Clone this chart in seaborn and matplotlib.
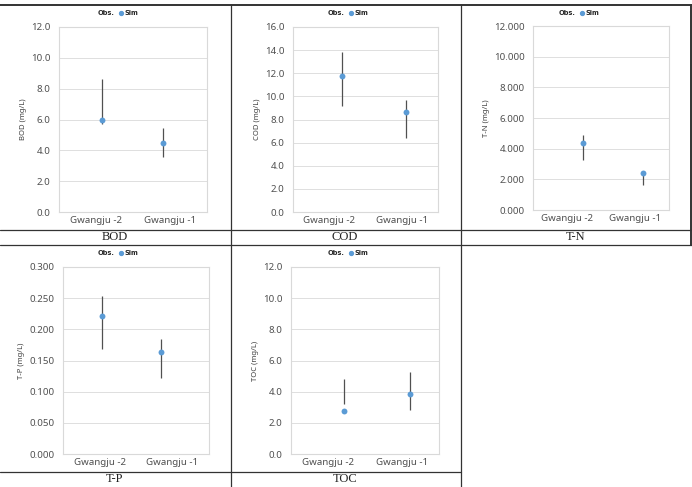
#!/usr/bin/env python
# coding: utf-8
# Observed range vs simulated value at two Gwangju stations, five water quality items

import numpy as np
import pandas as pd
import matplotlib
import matplotlib.pyplot as plt
import seaborn as sns
from matplotlib.lines import Line2D

sns.set_style("white")
matplotlib.rcParams['font.family'] = ["Noto Sans", "DejaVu Sans"]

#%% data

sites = ["Gwangju -2", "Gwangju -1"]

bod_sim = [5.97, 4.50]
bod_lo = [5.71, 3.60]
bod_hi = [8.60, 5.47]

cod_sim = [11.73, 8.63]
cod_lo = [9.20, 6.42]
cod_hi = [13.85, 9.69]

tn_sim = [4.35, 2.40]
tn_lo = [3.23, 1.62]
tn_hi = [4.87, 2.43]

tp_sim = [0.221, 0.163]
tp_lo = [0.168, 0.122]
tp_hi = [0.253, 0.185]

toc_sim = [2.79, 3.84]
toc_lo = [3.18, 2.81]
toc_hi = [4.81, 5.26]

captions = ["BOD", "COD", "T-N", "T-P", "TOC"]
ylabels = ["BOD (mg/L)", "COD (mg/L)", "T-N (mg/L)", "T-P (mg/L)", "TOC (mg/L)"]
yticks = [np.arange(0, 12.1, 2), np.arange(0, 16.1, 2), np.arange(0, 12.1, 2),
          np.arange(0, 0.301, 0.05), np.arange(0, 12.1, 2)]
yfmt = ["{:.1f}", "{:.1f}", "{:.3f}", "{:.3f}", "{:.1f}"]

#%% layout (pixels: left, top, right, bottom)

W, H = 692, 487
boxes = [(59, 27, 207, 212), (293, 27, 438, 212), (533, 26, 669, 210),
         (63, 267, 209, 454), (291, 267, 439, 454)]
# x limits per panel, so the markers sit where the original chart put them
xlims = [(-0.70, 1.73), (-0.77, 1.50), (-0.84, 1.43), (-0.675, 1.825), (-0.82, 1.45)]
cell_cx = [115, 345, 576, 115, 345]
cell_top = [5, 5, 5, 245, 245]
caption_y = [237.5, 237.5, 237.5, 479.5, 479.5]

panels = [(bod_sim, bod_lo, bod_hi), (cod_sim, cod_lo, cod_hi), (tn_sim, tn_lo, tn_hi),
          (tp_sim, tp_lo, tp_hi), (toc_sim, toc_lo, toc_hi)]

fig = plt.figure(figsize=(W / 100, H / 100), dpi=100)

blue = "#5b9bd5"
grey = "#d9d9d9"
txt = "#505050"

for i, (sim, lo, hi) in enumerate(panels):
    l, t, r, b = boxes[i]
    ax = fig.add_axes([l / W, 1 - b / H, (r - l) / W, (b - t) / H])
    df = pd.DataFrame({"site": sites, "sim": sim, "lo": lo, "hi": hi})

    ax.vlines(np.arange(len(sites)), df["lo"], df["hi"], color="#505050", lw=0.9, zorder=2)
    sns.scatterplot(data=df, x="site", y="sim", ax=ax, color=blue, s=18,
                    edgecolor=blue, linewidth=0, zorder=3)

    a, z = xlims[i]
    ax.set_xlim(a, z)
    ax.set_ylim(yticks[i][0], yticks[i][-1])
    ax.set_yticks(yticks[i])
    ax.set_yticklabels([yfmt[i].format(v) for v in yticks[i]], fontsize=7, color=txt)
    # category labels centred in each half of the plot area (Excel style)
    ax.set_xticks([a + 0.25 * (z - a), a + 0.75 * (z - a)])
    ax.set_xticklabels(sites, fontsize=7, color=txt)
    ax.tick_params(axis="y", length=0, pad=6)
    ax.tick_params(axis="x", length=0, pad=3)
    ax.set_xlabel("")
    ax.set_ylabel(ylabels[i], fontsize=5.5, color="#404040", labelpad=3)
    ax.grid(axis="y", color=grey, lw=0.6)
    ax.grid(axis="x", visible=False)
    ax.set_axisbelow(True)
    for sp in ax.spines.values():
        sp.set_color(grey)
        sp.set_linewidth(0.8)

    handles = [Line2D([], [], linestyle="none"),
               Line2D([], [], linestyle="none", marker="o", markersize=2.8,
                      color=blue)]
    ax.legend(handles, ["Obs.", "Sim"], loc="center", ncol=2, frameon=False,
              bbox_to_anchor=(cell_cx[i] / W, 1 - (cell_top[i] + 8) / H),
              bbox_transform=fig.transFigure, handlelength=0.8, handletextpad=0.2,
              columnspacing=0.5,
              prop={"size": 4.8, "weight": "bold", "family": "DejaVu Sans"})

    fig.text(cell_cx[i] / W, 1 - caption_y[i] / H, captions[i], ha="center", va="center",
             fontsize=9, family=["Liberation Serif", "DejaVu Serif"], color="#222222")

# table rules
def hline(y, x0, x1, lw=0.9):
    fig.add_artist(Line2D([x0 / W, x1 / W], [1 - y / H, 1 - y / H], color="#333333", lw=lw))

def vline(x, y0, y1, lw=0.9):
    fig.add_artist(Line2D([x / W, x / W], [1 - y0 / H, 1 - y1 / H], color="#333333", lw=lw))

hline(5, 0, 692, lw=1.4)
hline(230, 0, 692)
hline(245, 0, 692)
hline(472, 0, 461)
vline(230.5, 5, 487)
vline(460.5, 5, 487)
vline(691, 5, 245, lw=1.4)

plt.savefig("out.png", dpi=100)
